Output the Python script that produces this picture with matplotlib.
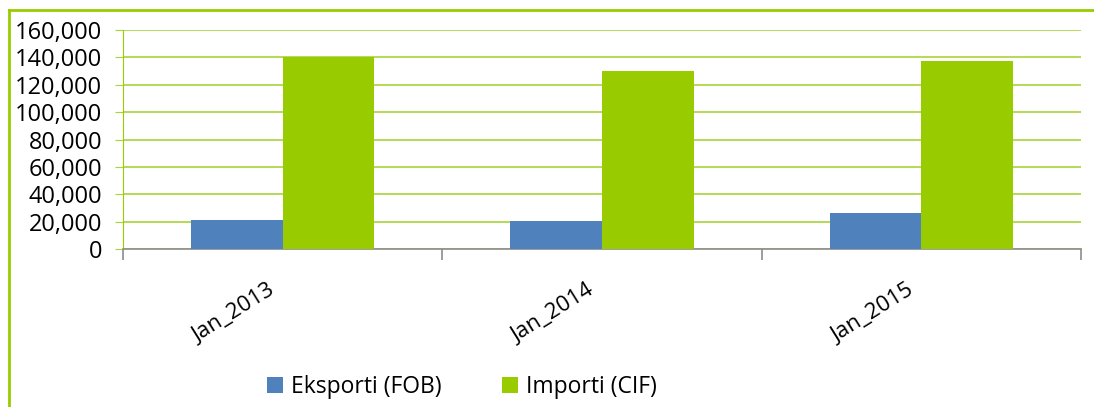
import matplotlib
matplotlib.use("Agg")
import matplotlib.pyplot as plt
import matplotlib.transforms as mtransforms
from matplotlib.lines import Line2D
from matplotlib.ticker import FuncFormatter, MultipleLocator
import numpy as np

categories = ["Jan_2013", "Jan_2014", "Jan_2015"]
eksporti = [21200, 20500, 26500]
importi = [140000, 130000, 137400]
series_names = ["Eksporti (FOB)", "Importi (CIF)"]

plt.rcParams['font.family'] = ['Open Sans', 'DejaVu Sans']

W, H = 1094, 407
fig = plt.figure(figsize=(W / 100, H / 100), dpi=100)
# axes box in pixels: left 123, right 1081, top 30, bottom 249
ax = fig.add_axes([123 / W, 1 - 249 / H, (1081 - 123) / W, (249 - 30) / H])

x = np.arange(len(categories))
w = 0.287
b1 = ax.bar(x - w / 2, eksporti, w, color='#4F81BD', label=series_names[0], zorder=3)
b2 = ax.bar(x + w / 2, importi, w, color='#99CC00', label=series_names[1], zorder=3)

ax.set_xlim(-0.5, len(categories) - 0.5)
ax.set_ylim(0, 160000)
ax.yaxis.set_major_locator(MultipleLocator(20000))
ax.yaxis.set_major_formatter(FuncFormatter(lambda v, p: f"{int(v):,}"))
ax.grid(axis='y', color='#A8D43A', linewidth=1.2, zorder=0)

for s in ['top', 'right']:
    ax.spines[s].set_visible(False)
ax.spines['left'].set_color('#99CC00')
ax.spines['bottom'].set_color('#8C8C8C')
ax.spines['bottom'].set_linewidth(1.2)

ax.tick_params(axis='y', length=6, color='#A8D43A', labelsize=17, pad=9)
ax.set_xticks(np.arange(-0.5, len(categories)), minor=True)
ax.set_xticks(x)
ax.set_xticklabels(categories, rotation=32, ha='right', va='top',
                   rotation_mode='anchor', fontsize=16)
ax.tick_params(axis='x', which='major', length=0, pad=22)
ax.tick_params(axis='x', which='minor', length=8, color='#8C8C8C', width=1.2)
shift = mtransforms.ScaledTranslation(-0.15, 0, fig.dpi_scale_trans)
for lab in ax.get_xticklabels():
    lab.set_transform(lab.get_transform() + shift)

fig.legend(handles=[b1, b2], loc='center', bbox_to_anchor=(462 / W, 1 - 387 / H),
           ncol=2, frameon=False, fontsize=16.5, handlelength=0.7, handleheight=0.7,
           handletextpad=0.35, columnspacing=2.6)

# outer chart border (only left and top edges are visible)
fig.add_artist(Line2D([9 / W, 9 / W], [0, 1 - 10 / H], color='#99CC00', linewidth=2,
                      transform=fig.transFigure))
fig.add_artist(Line2D([9 / W, 1], [1 - 10 / H, 1 - 10 / H], color='#99CC00', linewidth=2,
                      transform=fig.transFigure))

fig.savefig("out.png", dpi=100)
